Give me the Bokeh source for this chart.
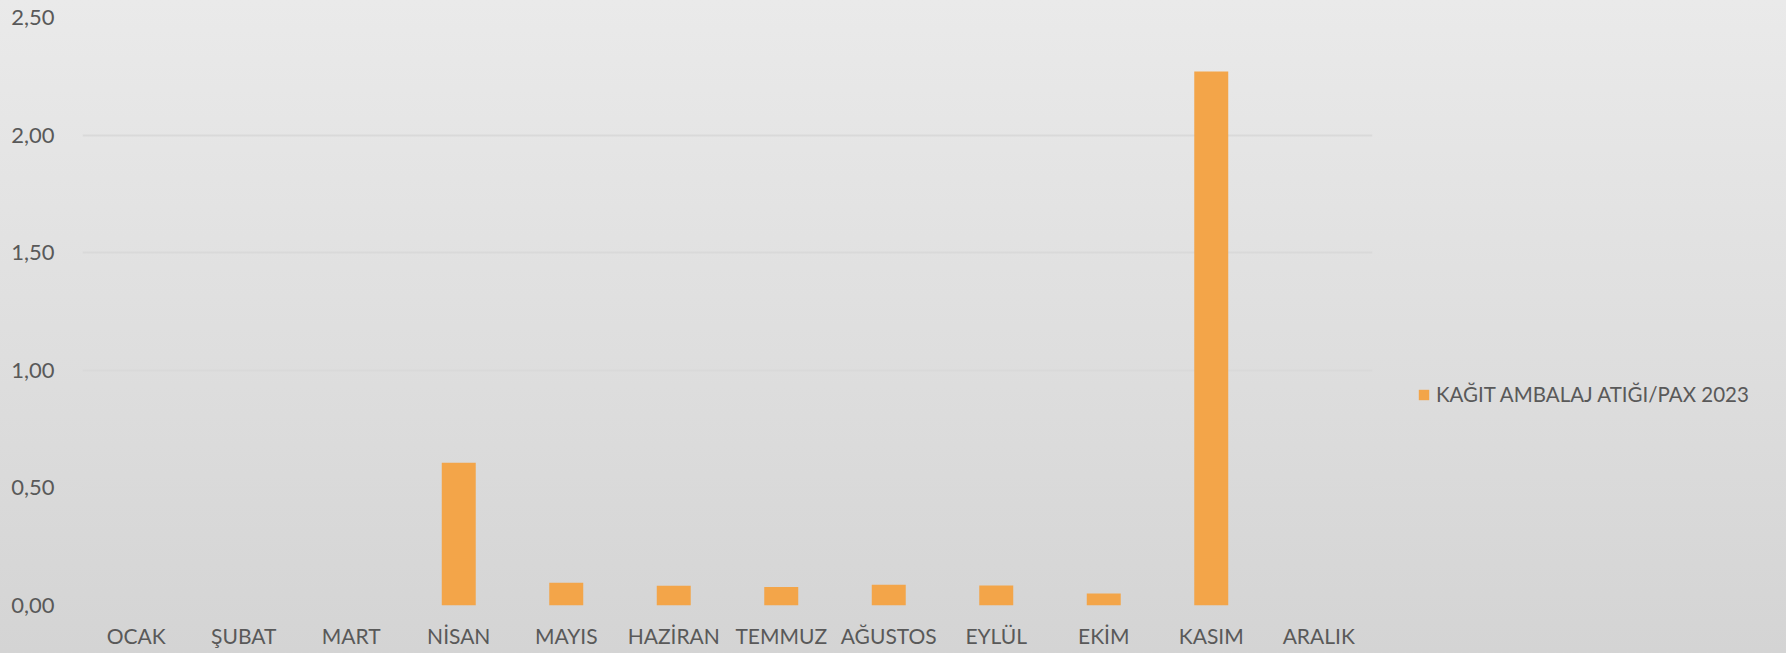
from bokeh.plotting import figure
from bokeh.layouts import row
from bokeh.models import FactorRange, Range1d, FixedTicker, Legend, LegendItem, ColumnDataSource
from bokeh.embed import file_html
from bokeh.resources import INLINE

months = ["OCAK", "ŞUBAT", "MART", "NİSAN", "MAYIS", "HAZİRAN", "TEMMUZ",
          "AĞUSTOS", "EYLÜL", "EKİM", "KASIM", "ARALIK"]
values = [0.0, 0.0, 0.0, 0.607, 0.097, 0.084, 0.079, 0.088, 0.085, 0.051, 2.27, 0.0]
series_name = "KAĞIT AMBALAJ ATIĞI/PAX 2023"
y_ticks = [0.0, 0.5, 1.0, 1.5, 2.0, 2.5]
y_tick_labels = ["0,00", "0,50", "1,00", "1,50", "2,00", "2,50"]

FONT = "Lato"
TEXT = "#595959"
BAR = "#F3A549"

src = ColumnDataSource(dict(m=months, v=values))

p = figure(x_range=FactorRange(*months, range_padding=0), y_range=Range1d(0, 2.5),
           width=1390, height=653, output_backend="svg", toolbar_location=None,
           min_border_left=82, min_border_right=18, min_border_top=17, min_border_bottom=48)
p.background_fill_alpha = 0
p.border_fill_alpha = 0
p.outline_line_color = None

p.vbar(x="m", top="v", width=0.316, source=src, fill_color=BAR, line_color=None)

p.xgrid.grid_line_color = None
p.ygrid.grid_line_color = "#d9d9d9"
p.ygrid.grid_line_width = 2
p.ygrid.ticker = FixedTicker(ticks=y_ticks)

p.yaxis.ticker = FixedTicker(ticks=y_ticks)
p.yaxis.major_label_overrides = {t: l for t, l in zip(y_ticks, y_tick_labels)}
for ax in (p.xaxis[0], p.yaxis[0]):
    ax.axis_line_color = None
    ax.major_tick_line_color = None
    ax.minor_tick_line_color = None
    ax.major_label_text_font = FONT
    ax.major_label_text_color = TEXT
p.yaxis.major_label_text_font_size = "22px"
p.xaxis.major_label_text_font_size = "21px"
p.yaxis.major_label_standoff = 22
p.xaxis.major_label_standoff = 11

# legend panel (its own figure, so the legend is not clipped by the chart frame)
q = figure(width=396, height=653, output_backend="svg", toolbar_location=None,
           min_border_left=0, min_border_right=0, min_border_top=0, min_border_bottom=0,
           x_range=FactorRange(*months), y_range=Range1d(0, 2.5))
q.background_fill_alpha = 0
q.border_fill_alpha = 0
q.outline_line_color = None
q.axis.visible = False
q.grid.visible = False
proxy = q.vbar(x="m", top="v", width=0.316, source=src, fill_color=BAR, line_color=None)
proxy.visible = False

legend = Legend(items=[LegendItem(label=series_name, renderers=[proxy])],
                location=(27, 199), orientation="vertical",
                glyph_width=13, glyph_height=13, label_standoff=6,
                padding=0, margin=0, border_line_color=None, background_fill_alpha=0,
                inactive_fill_alpha=0, click_policy="none",
                label_text_font=FONT, label_text_font_size="20.5px", label_text_color=TEXT)
q.add_layout(legend, "center")

layout = row(p, q, spacing=0)
layout.styles = {"background": "linear-gradient(to bottom, #eaeaea 0%, #d4d4d4 100%)"}

open("out.html", "w").write(file_html(layout, INLINE))
